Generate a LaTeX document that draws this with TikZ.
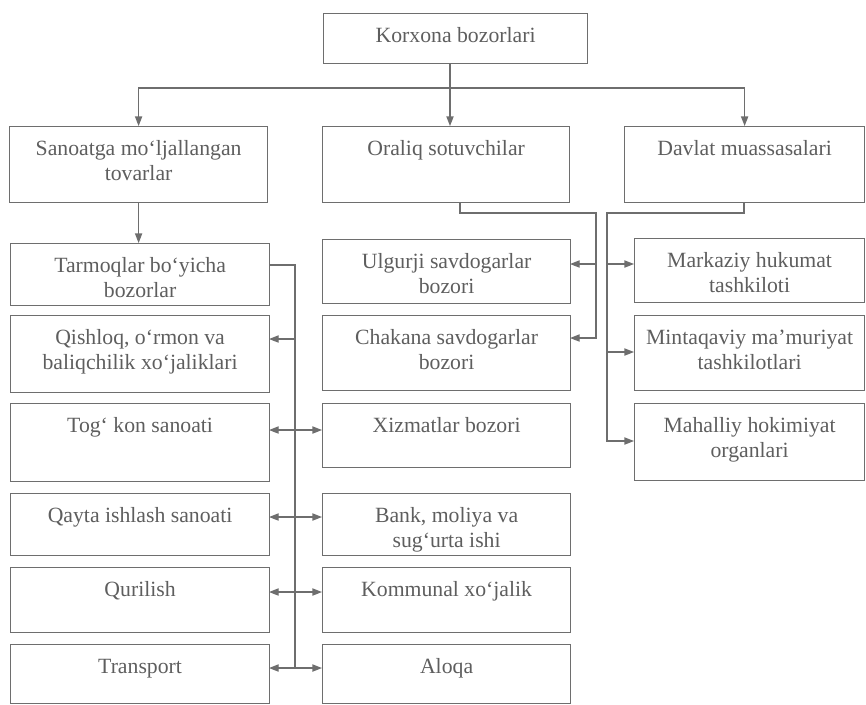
\documentclass[tikz,border=0pt]{standalone}
\usepackage{fontspec}
\setmainfont{Liberation Serif}
\usetikzlibrary{arrows.meta}
\definecolor{ink}{HTML}{5E5E5E}
\definecolor{rule}{HTML}{6E6E6E}
\newcommand{\mybox}[6]{%
  \node[boxnode] (#1) at (#2,#3)
    {\parbox[t][\dimexpr(#5pt-#3pt)*3/4\relax][t]{\dimexpr(#4pt-#2pt)*3/4\relax}{\centering\rule{0pt}{21.75pt}#6\par}};}
\begin{document}
\begin{tikzpicture}[x=0.75pt,y=-0.75pt,
  boxnode/.style={draw=rule, line width=0.9pt, anchor=north west, inner sep=0pt, text=ink,
    font=\fontsize{16.3}{18.75}\selectfont},
  conn/.style={draw=rule, line width=0.9pt},
  arr/.style={conn, -{Triangle[length=7.2pt,width=5.4pt]}},
  arrtwo/.style={conn, {Triangle[length=7.2pt,width=5.4pt]}-{Triangle[length=7.2pt,width=5.4pt]}}]
\useasboundingbox (0,0) rectangle (866,704);
% boxes
\mybox{top}{323}{13}{587}{63}{Korxona bozorlari}
\mybox{sano}{9}{126}{267}{202}{Sanoatga mo‘ljallangan\\tovarlar}
\mybox{oral}{322}{126}{569}{202}{Oraliq sotuvchilar}
\mybox{davl}{624}{126}{864}{202}{Davlat muassasalari}
\mybox{tarm}{10}{243}{269}{305}{Tarmoqlar bo‘yicha\\bozorlar}
\mybox{qish}{10}{315}{269}{392}{Qishloq, o‘rmon va\\baliqchilik xo‘jaliklari}
\mybox{tog}{10}{403}{269}{481}{Tog‘ kon sanoati}
\mybox{qayt}{10}{493}{269}{555}{Qayta ishlash sanoati}
\mybox{quri}{10}{567}{269}{632}{Qurilish}
\mybox{tran}{10}{644}{269}{703}{Transport}
\mybox{ulg}{322}{239}{570}{303}{Ulgurji savdogarlar\\bozori}
\mybox{chak}{322}{315}{570}{390}{Chakana savdogarlar\\bozori}
\mybox{xiz}{322}{403}{570}{467}{Xizmatlar bozori}
\mybox{bank}{322}{493}{570}{555}{Bank, moliya va\\sug‘urta ishi}
\mybox{komm}{322}{567}{570}{632}{Kommunal xo‘jalik}
\mybox{aloq}{322}{644}{570}{703}{Aloqa}
\mybox{mark}{634}{238}{864}{302}{Markaziy hukumat\\tashkiloti}
\mybox{mint}{634}{315}{864}{390}{Mintaqaviy ma’muriyat\\tashkilotlari}
\mybox{maha}{634}{403}{864}{480}{Mahalliy hokimiyat\\organlari}
% top distribution
\coordinate (hub) at (450,88);
\draw[conn] (top.south -| hub) -- (hub);
\draw[arr] (hub) -- (hub |- oral.north);
\draw[arr] (hub) -| (sano.north);
\draw[arr] (hub) -| (davl.north);
\draw[arr] (sano.south) -- (sano.south |- tarm.north);
% oraliq
\coordinate (oB) at (460,202);
\coordinate (oR) at (596,213);
\coordinate (uY) at (570,264);
\coordinate (cY) at (570,338);
\draw[arr] (oB) |- (oR) |- (cY);
\draw[arr] (oR |- uY) -- (uY);
% davlat
\coordinate (dB) at (744,202);
\coordinate (dL) at (607,213);
\coordinate (mkY) at (634,264);
\coordinate (mnY) at (634,352);
\coordinate (mhY) at (634,441);
\draw[arr] (dB) |- (dL) |- (mhY);
\draw[arr] (dL |- mkY) -- (mkY);
\draw[arr] (dL |- mnY) -- (mnY);
% tarmoqlar
\coordinate (tY) at (269,265);
\coordinate (tR) at (295,265);
\coordinate (trY) at (269,668);
\coordinate (qY) at (269,339);
\draw[conn] (tY) -- (tR) -- (tR |- trY);
\draw[arr] (tR |- qY) -- (qY);
\coordinate (a1) at (269,430); \coordinate (b1) at (322,430);
\coordinate (a2) at (269,517); \coordinate (b2) at (322,517);
\coordinate (a3) at (269,592); \coordinate (b3) at (322,592);
\coordinate (a4) at (269,668); \coordinate (b4) at (322,668);
\draw[arrtwo] (a1) -- (b1);
\draw[arrtwo] (a2) -- (b2);
\draw[arrtwo] (a3) -- (b3);
\draw[arrtwo] (a4) -- (b4);
\end{tikzpicture}
\end{document}
